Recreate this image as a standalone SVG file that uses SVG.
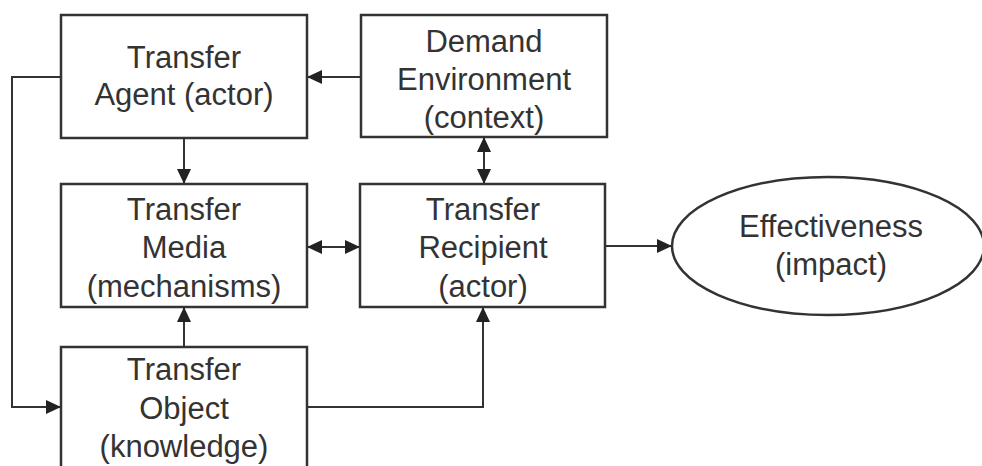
<svg xmlns="http://www.w3.org/2000/svg" width="982" height="466" viewBox="0 0 982 466">
  <style>
    .box { fill: #ffffff; stroke: #333333; stroke-width: 2.5; }
    .lbl { font-family: "Liberation Sans", Arial, sans-serif; font-size: 31px; fill: #333333; text-anchor: middle; }
    .wire { fill: none; stroke: #333333; stroke-width: 2; }
  </style>
  <defs>
    <marker id="head" markerUnits="userSpaceOnUse" markerWidth="15" markerHeight="14" refX="14" refY="7" orient="auto-start-reverse">
      <path d="M0,0 L15,7 L0,14 z" fill="#222222"/>
    </marker>
  </defs>
  <rect width="982" height="466" fill="#ffffff"/>

  <g id="connectors">
    <!-- Demand Environment -> Transfer Agent -->
    <line class="wire" x1="361" y1="77" x2="308" y2="77" marker-end="url(#head)"/>
    <!-- Transfer Agent -> Transfer Media -->
    <line class="wire" x1="184" y1="138" x2="184" y2="183" marker-end="url(#head)"/>
    <!-- Demand Environment <-> Transfer Recipient -->
    <line class="wire" x1="484" y1="138" x2="484" y2="183" marker-start="url(#head)" marker-end="url(#head)"/>
    <!-- Transfer Media <-> Transfer Recipient -->
    <line class="wire" x1="308" y1="247" x2="359" y2="247" marker-start="url(#head)" marker-end="url(#head)"/>
    <!-- Transfer Recipient -> Effectiveness -->
    <line class="wire" x1="606" y1="246" x2="671" y2="246" marker-end="url(#head)"/>
    <!-- Transfer Object -> Transfer Media -->
    <line class="wire" x1="184" y1="347" x2="184" y2="308" marker-end="url(#head)"/>
    <!-- Transfer Object -> Transfer Recipient -->
    <polyline class="wire" points="307,407 483,407 483,308" marker-end="url(#head)"/>
    <!-- Transfer Agent -> Transfer Object (left loop) -->
    <polyline class="wire" points="61,77 12,77 12,407 60,407" marker-end="url(#head)"/>
  </g>

  <g id="transfer-agent">
    <rect class="box" x="61" y="15" width="246" height="123"/>
    <text class="lbl" x="184" y="68">Transfer</text>
    <text class="lbl" x="184" y="105">Agent (actor)</text>
  </g>

  <g id="demand-environment">
    <rect class="box" x="361" y="15" width="246" height="122"/>
    <text class="lbl" x="484" y="52">Demand</text>
    <text class="lbl" x="484" y="90">Environment</text>
    <text class="lbl" x="484" y="128">(context)</text>
  </g>

  <g id="transfer-media">
    <rect class="box" x="61" y="184" width="246" height="123"/>
    <text class="lbl" x="184" y="220">Transfer</text>
    <text class="lbl" x="184" y="258">Media</text>
    <text class="lbl" x="184" y="297">(mechanisms)</text>
  </g>

  <g id="transfer-recipient">
    <rect class="box" x="360" y="184" width="245" height="123"/>
    <text class="lbl" x="483" y="220">Transfer</text>
    <text class="lbl" x="483" y="258">Recipient</text>
    <text class="lbl" x="483" y="297">(actor)</text>
  </g>

  <g id="transfer-object">
    <rect class="box" x="61" y="347" width="246" height="130"/>
    <text class="lbl" x="184" y="380">Transfer</text>
    <text class="lbl" x="184" y="419">Object</text>
    <text class="lbl" x="184" y="457">(knowledge)</text>
  </g>

  <g id="effectiveness">
    <ellipse class="box" cx="828" cy="246" rx="156" ry="69"/>
    <text class="lbl" x="831" y="237">Effectiveness</text>
    <text class="lbl" x="831" y="275">(impact)</text>
  </g>
</svg>
